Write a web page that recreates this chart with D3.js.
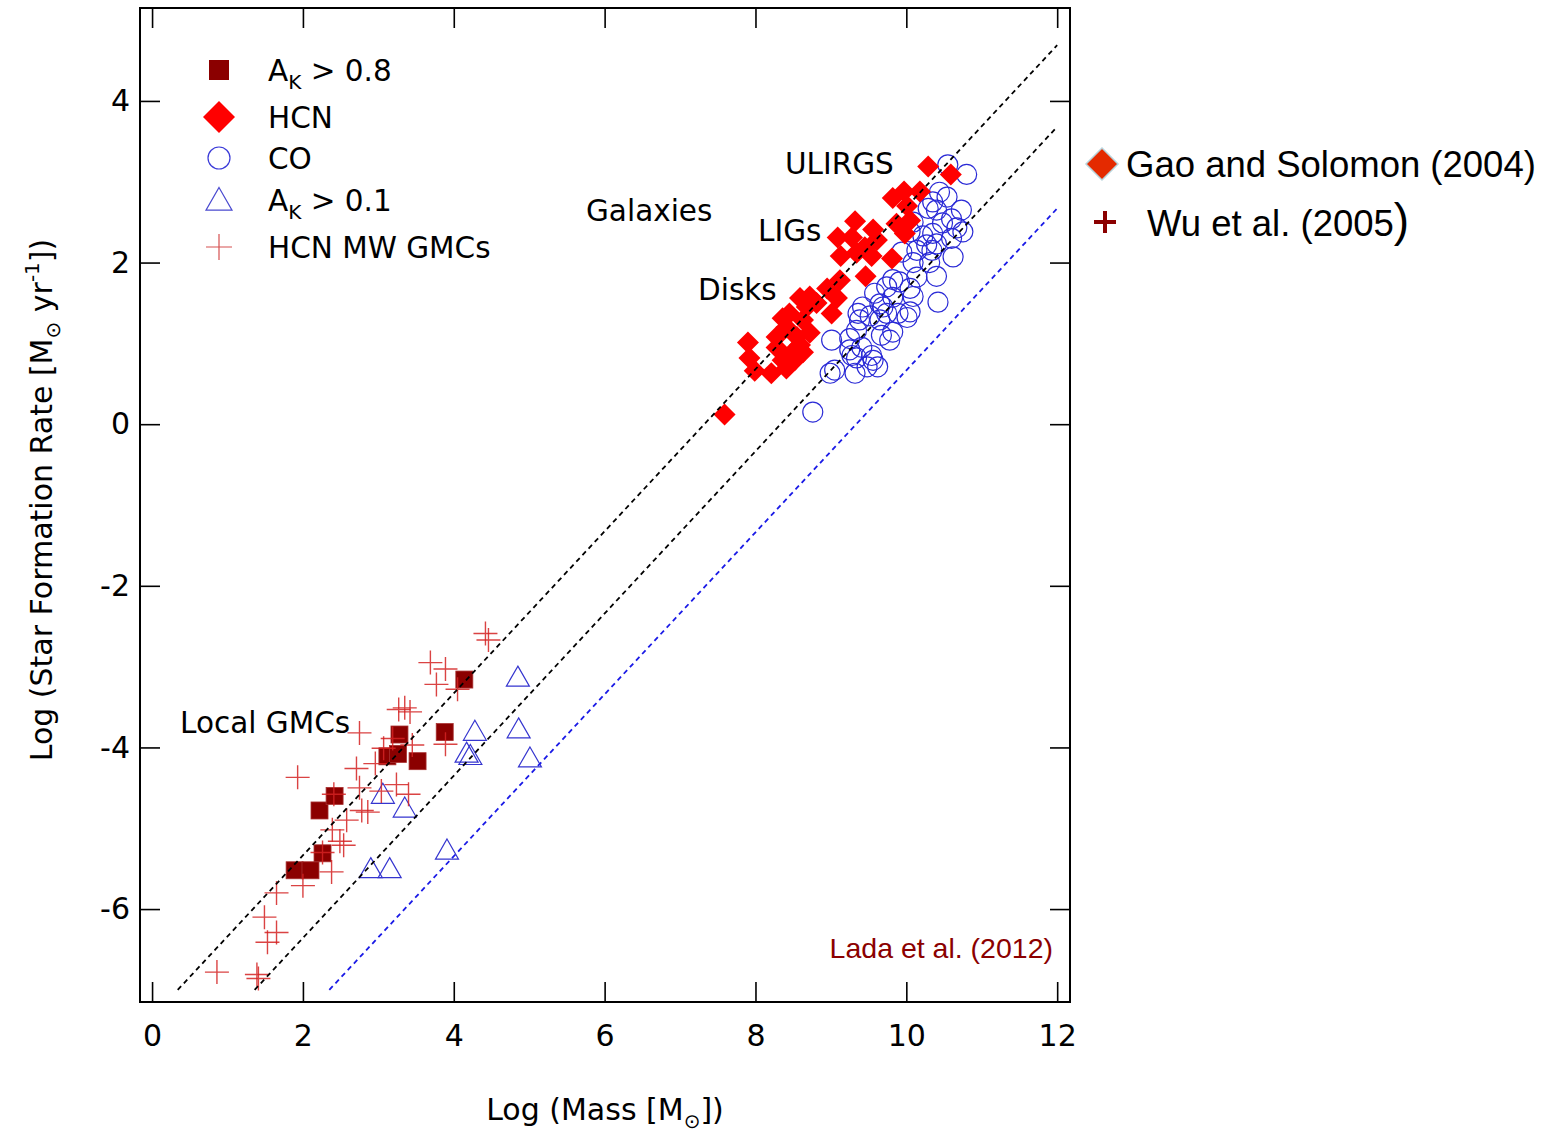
<!DOCTYPE html>
<html>
<head>
<meta charset="utf-8">
<script src="https://cdn.jsdelivr.net/npm/d3@7"></script>
<style>
  body { margin: 0; background: #fff; }
  svg text { font-family: "DejaVu Sans", sans-serif; }
  svg text.arial { font-family: "Liberation Sans", Arial, sans-serif; }
</style>
</head>
<body>
<svg id="chart" width="1564" height="1133"></svg>
<script>
// ---- data (log mass, log SFR) ----
const xTicks = [0, 2, 4, 6, 8, 10, 12];
const yTicks = [-6, -4, -2, 0, 2, 4];

// A_K > 0.8 local clouds
const akHigh = [
  [1.89, -5.52], [2.10, -5.52], [2.26, -5.31], [2.22, -4.78], [2.42, -4.60],
  [3.12, -4.11], [3.26, -4.08], [3.28, -3.84], [3.52, -4.17], [3.88, -3.81], [4.14, -3.16]
];

// A_K > 0.1 local clouds
const akLow = [
  [4.85, -3.13], [4.28, -3.80], [4.86, -3.77], [4.17, -4.07], [4.22, -4.10],
  [5.01, -4.13], [3.06, -4.58], [3.35, -4.75], [3.91, -5.27], [2.90, -5.50], [3.15, -5.50]
];

// HCN Milky Way GMCs (Wu et al. 2005)
const hcnMw = [
  [4.42, -2.59], [4.46, -2.67], [3.69, -2.95], [3.89, -3.03], [3.77, -3.22], [4.05, -3.28],
  [3.27, -3.53], [3.35, -3.51], [3.42, -3.56], [2.75, -3.82], [3.19, -3.89], [3.07, -4.01],
  [3.45, -3.97], [3.89, -3.96], [2.71, -4.26], [2.96, -4.20], [1.93, -4.37], [2.75, -4.50],
  [3.04, -4.54], [3.24, -4.46], [3.40, -4.58], [2.78, -4.78], [2.86, -4.80], [2.58, -4.90],
  [2.41, -4.58], [2.39, -5.02], [2.49, -5.16], [2.54, -5.21], [2.26, -5.30], [2.38, -5.54],
  [2.00, -5.71], [1.65, -5.80], [1.49, -6.10], [1.65, -6.29], [1.53, -6.41], [0.86, -6.78],
  [1.39, -6.81], [1.41, -6.86]
];

// HCN galaxies (Gao & Solomon 2004)
const hcnGal = [
  [10.29, 3.19], [10.59, 3.09], [9.82, 2.80], [9.97, 2.88], [10.18, 2.88], [10.01, 2.70],
  [10.05, 2.52], [9.98, 2.36], [9.87, 2.48], [9.32, 2.51], [9.09, 2.31], [9.28, 2.31],
  [9.56, 2.41], [9.61, 2.28], [9.45, 2.19], [9.13, 2.08], [9.34, 2.12], [9.54, 2.08],
  [9.81, 2.05], [9.46, 1.83], [9.12, 1.78], [8.95, 1.68], [9.08, 1.56], [8.81, 1.50],
  [8.72, 1.58], [9.01, 1.37], [8.59, 1.56], [8.68, 1.45], [8.45, 1.37], [8.36, 1.31],
  [8.63, 1.29], [8.41, 1.20], [8.72, 1.13], [8.28, 1.08], [8.55, 1.08], [8.59, 0.98],
  [7.90, 1.01], [8.28, 0.95], [8.49, 0.89], [8.63, 0.89], [7.92, 0.82], [8.36, 0.79],
  [8.52, 0.79], [7.99, 0.66], [8.21, 0.63], [8.41, 0.69], [7.59, 0.12]
];

// CO galaxies
const coGal = [
  [10.55, 3.21], [10.80, 3.09], [10.44, 2.87], [10.54, 2.81], [10.35, 2.75], [10.40, 2.65],
  [10.73, 2.65], [10.60, 2.54], [10.48, 2.49], [10.67, 2.43], [10.75, 2.38], [10.09, 2.50],
  [10.05, 2.38], [10.22, 2.33], [10.35, 2.36], [10.60, 2.30], [10.40, 2.23], [10.27, 2.22],
  [9.94, 2.13], [10.14, 2.15], [10.34, 2.15], [10.62, 2.07], [10.31, 2.00], [10.09, 2.00],
  [10.29, 2.67], [10.40, 1.83], [10.14, 1.82], [9.91, 1.76], [9.82, 1.79], [10.05, 1.68],
  [10.42, 1.51], [9.74, 1.70], [9.58, 1.62], [9.82, 1.57], [10.09, 1.58], [9.65, 1.49],
  [9.42, 1.45], [9.36, 1.37], [9.52, 1.34], [9.74, 1.37], [9.89, 1.37], [10.01, 1.32],
  [10.05, 1.39], [9.69, 1.45], [9.38, 1.29], [9.65, 1.29], [9.01, 1.04], [9.25, 1.06],
  [9.34, 1.16], [9.28, 0.85], [9.41, 0.95], [9.54, 0.85], [9.34, 0.82], [9.56, 0.79],
  [9.62, 0.71], [9.48, 0.71], [9.32, 0.63], [9.05, 0.67], [9.78, 1.04], [9.82, 1.14],
  [9.67, 1.10], [9.25, 0.92], [8.99, 0.63], [8.76, 0.15]
];

// linear relations (end points)
const fitLines = [
  { pts: [[0.34, -7.0], [12.0, 4.69]], color: '#000' },
  { pts: [[1.36, -7.0], [12.0, 3.68]], color: '#000' },
  { pts: [[2.35, -7.0], [12.0, 2.67]], color: '#1a1ae6' }
];

// ---- layout ----
const svg = d3.select('#chart');
const frame = { left: 140, right: 1070, top: 8, bottom: 1002 };

const x = d3.scaleLinear().domain([-0.16, 12.17]).range([frame.left, frame.right]);
const y = d3.scaleLinear().domain([-7.15, 5.15]).range([frame.bottom, frame.top]);

const tickLen = 20;

// axes, ticks pointing inwards
svg.append('g')
  .attr('transform', `translate(0,${frame.bottom})`)
  .call(d3.axisBottom(x).tickValues(xTicks).tickSize(-tickLen).tickPadding(23).tickFormat(d3.format('d')));
svg.append('g')
  .attr('transform', `translate(0,${frame.top})`)
  .call(d3.axisTop(x).tickValues(xTicks).tickSize(-tickLen).tickFormat(''));
svg.append('g')
  .attr('transform', `translate(${frame.left},0)`)
  .call(d3.axisLeft(y).tickValues(yTicks).tickSize(-tickLen).tickPadding(10).tickFormat(d => d < 0 ? '-' + Math.abs(d) : d));
svg.append('g')
  .attr('transform', `translate(${frame.right},0)`)
  .call(d3.axisRight(y).tickValues(yTicks).tickSize(-tickLen).tickFormat(''));

svg.selectAll('.domain').remove();
svg.selectAll('.tick line').attr('stroke', '#000').attr('stroke-width', 1.6);
svg.selectAll('.tick text')
  .attr('fill', '#000')
  .style('font-size', '30px')
  .style('font-family', '"DejaVu Sans", sans-serif');

svg.append('rect')
  .attr('x', frame.left).attr('y', frame.top)
  .attr('width', frame.right - frame.left).attr('height', frame.bottom - frame.top)
  .attr('fill', 'none').attr('stroke', '#000').attr('stroke-width', 2);

// ---- marker helpers ----
const diamond = (cx, cy, r) => `M${cx},${cy - r}L${cx + r},${cy}L${cx},${cy + r}L${cx - r},${cy}Z`;
const triangle = (cx, cy, w) => {
  const h = w * 0.87;
  return `M${cx},${cy - h * 0.55}L${cx + w / 2},${cy + h * 0.45}L${cx - w / 2},${cy + h * 0.45}Z`;
};
const cross = (cx, cy, s) => `M${cx - s},${cy}H${cx + s}M${cx},${cy - s}V${cy + s}`;

const plot = svg.append('g');

// CO circles
plot.append('g').selectAll('circle')
  .data(coGal).join('circle')
  .attr('cx', d => x(d[0])).attr('cy', d => y(d[1])).attr('r', 10)
  .attr('fill', 'none').attr('stroke', '#2a2ad6').attr('stroke-width', 1.2);

// HCN galaxies
plot.append('g').selectAll('path')
  .data(hcnGal).join('path')
  .attr('d', d => diamond(x(d[0]), y(d[1]), 11))
  .attr('fill', '#ff0000');

// A_K > 0.1 triangles
plot.append('g').selectAll('path')
  .data(akLow).join('path')
  .attr('d', d => triangle(x(d[0]), y(d[1]), 23))
  .attr('fill', 'none').attr('stroke', '#3535cf').attr('stroke-width', 1.2);

// A_K > 0.8 squares
plot.append('g').selectAll('rect')
  .data(akHigh).join('rect')
  .attr('x', d => x(d[0]) - 8.5).attr('y', d => y(d[1]) - 8.5)
  .attr('width', 17).attr('height', 17)
  .attr('fill', '#8b0000').attr('stroke', '#a83030').attr('stroke-width', 0.8);

// HCN MW GMC crosses
plot.append('g').selectAll('path')
  .data(hcnMw).join('path')
  .attr('d', d => cross(x(d[0]), y(d[1]), 12))
  .attr('fill', 'none').attr('stroke', '#d42222').attr('stroke-opacity', 0.85).attr('stroke-width', 1.4);

// dashed relations on top
const line = d3.line().x(d => x(d[0])).y(d => y(d[1]));
plot.append('g').selectAll('path')
  .data(fitLines).join('path')
  .attr('d', d => line(d.pts))
  .attr('fill', 'none').attr('stroke', d => d.color)
  .attr('stroke-width', 1.8).attr('stroke-dasharray', '5,4');

// ---- legend inside plot ----
const legend = svg.append('g').style('font-size', '29.5px');
const lx = 219, tx = 268;
legend.append('rect').attr('x', lx - 10).attr('y', 60).attr('width', 20).attr('height', 20).attr('fill', '#8b0000');
legend.append('path').attr('d', diamond(lx, 117, 16)).attr('fill', '#ff0000');
legend.append('circle').attr('cx', lx).attr('cy', 158).attr('r', 11).attr('fill', 'none').attr('stroke', '#3a3ad8').attr('stroke-width', 1.2);
legend.append('path').attr('d', triangle(lx, 200, 26)).attr('fill', 'none').attr('stroke', '#4a4ad0').attr('stroke-width', 1.2);
legend.append('path').attr('d', cross(lx, 247, 13)).attr('fill', 'none').attr('stroke', '#d65050').attr('stroke-width', 1.2);

const ak1 = legend.append('text').attr('x', tx).attr('y', 81);
ak1.append('tspan').text('A');
ak1.append('tspan').attr('dy', 8).style('font-size', '20px').text('K');
ak1.append('tspan').attr('dy', -8).text(' > 0.8');
legend.append('text').attr('x', tx).attr('y', 128).text('HCN');
legend.append('text').attr('x', tx).attr('y', 169).text('CO');
const ak2 = legend.append('text').attr('x', tx).attr('y', 211);
ak2.append('tspan').text('A');
ak2.append('tspan').attr('dy', 8).style('font-size', '20px').text('K');
ak2.append('tspan').attr('dy', -8).text(' > 0.1');
legend.append('text').attr('x', tx).attr('y', 258).text('HCN MW GMCs');

// ---- annotations ----
const notes = [
  { t: 'ULIRGS', x: 785, y: 174 },
  { t: 'Galaxies', x: 586, y: 221 },
  { t: 'LIGs', x: 758, y: 241 },
  { t: 'Disks', x: 698, y: 300 },
  { t: 'Local GMCs', x: 180, y: 733 }
];
svg.append('g').selectAll('text')
  .data(notes).join('text')
  .attr('x', d => d.x).attr('y', d => d.y)
  .style('font-size', '29.5px').text(d => d.t);

svg.append('text')
  .attr('class', 'arial')
  .attr('x', 1053).attr('y', 958).attr('text-anchor', 'end')
  .style('font-size', '28.5px')
  .attr('fill', '#8b0000').text('Lada et al. (2012)');

// ---- axis titles ----
const xt = svg.append('text').attr('x', 605).attr('y', 1120).attr('text-anchor', 'middle').style('font-size', '30px');
xt.append('tspan').text('Log (Mass [M');
xt.append('tspan').attr('dy', 8).style('font-size', '20px').text('\u2299');
xt.append('tspan').attr('dy', -8).text('])');

const yt = svg.append('text').attr('transform', 'translate(52,500) rotate(-90)').attr('text-anchor', 'middle').style('font-size', '30px');
yt.append('tspan').text('Log (Star Formation Rate [M');
yt.append('tspan').attr('dy', 8).style('font-size', '20px').text('\u2299');
yt.append('tspan').attr('dy', -8).text(' yr');
yt.append('tspan').attr('dy', -13).style('font-size', '20px').text('-1');
yt.append('tspan').attr('dy', 13).text('])');

// ---- outside legend ----
const out = svg.append('g');
out.append('path').attr('d', diamond(1102, 164, 16)).attr('fill', '#e42a00').attr('stroke', '#b8d4dc').attr('stroke-width', 1.5);
out.append('text').attr('class', 'arial').attr('x', 1126).attr('y', 177).style('font-size', '36.5px').text('Gao and Solomon (2004)');
out.append('path').attr('d', cross(1105, 222, 11)).attr('stroke', '#8b0000').attr('stroke-width', 4);
const wu = out.append('text').attr('class', 'arial').attr('x', 1147).attr('y', 236).style('font-size', '36.5px');
wu.append('tspan').text('Wu et al. (2005');
wu.append('tspan').style('font-size', '46px').text(')');
</script>
</body>
</html>
